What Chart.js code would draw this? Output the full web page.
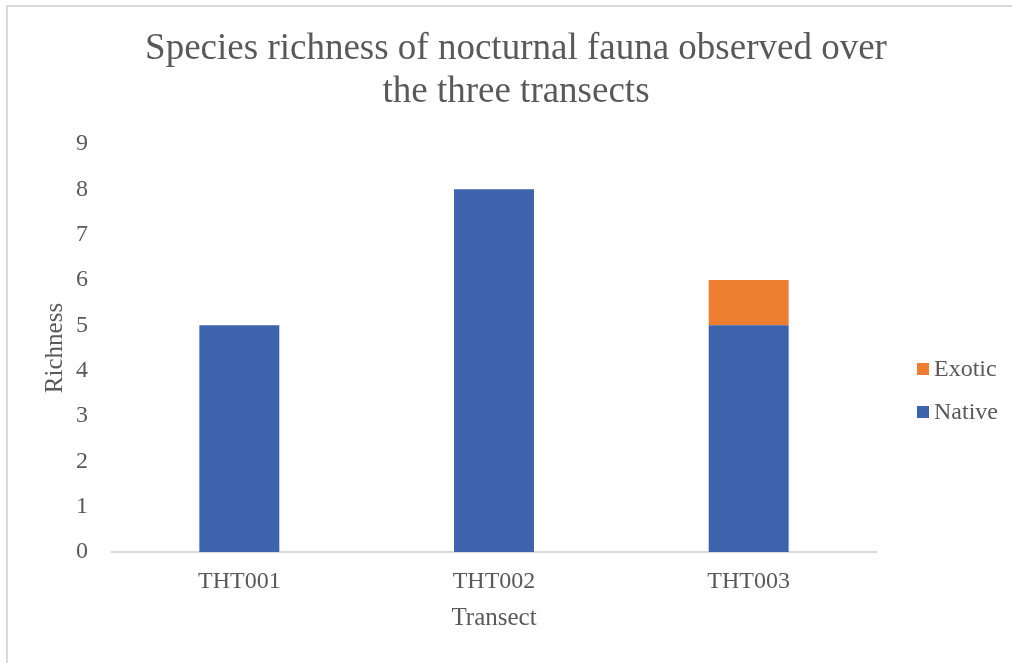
<!DOCTYPE html>
<html>
<head>
<meta charset="utf-8">
<script src="https://cdn.jsdelivr.net/npm/chart.js@4/dist/chart.umd.min.js"></script>
<style>
  html, body { margin: 0; padding: 0; background: #ffffff; }
  #wrap { position: relative; width: 1012px; height: 663px; }
</style>
</head>
<body>
<div id="wrap"><canvas id="c" width="1012" height="663"></canvas></div>
<script>
const categories = ['THT001', 'THT002', 'THT003'];
const nativeValues = [5, 8, 5];
const exoticValues = [0, 0, 1];
const yTicks = [0, 1, 2, 3, 4, 5, 6, 7, 8, 9];
const titleLines = ['Species richness of nocturnal fauna observed over', 'the three transects'];

const TEXT = '#595959';
const SERIF = "'Liberation Serif', 'Times New Roman', serif";

const frame = {
  id: 'frame',
  beforeDraw(chart) {
    const ctx = chart.ctx;
    ctx.save();
    ctx.fillStyle = '#ffffff';
    ctx.fillRect(0, 0, chart.width, chart.height);
    ctx.fillStyle = '#d9d9d9';
    ctx.fillRect(6, 5, chart.width - 6, 2);
    ctx.fillRect(6, 5, 2, chart.height - 5);
    ctx.restore();
  }
};

const titleDraw = {
  id: 'titleDraw',
  afterDraw(chart) {
    const ctx = chart.ctx;
    ctx.save();
    ctx.font = '37px ' + SERIF;
    ctx.fillStyle = TEXT;
    ctx.textAlign = 'center';
    ctx.textBaseline = 'alphabetic';
    titleLines.forEach((t, i) => ctx.fillText(t, 516, 59 + i * 43));
    ctx.restore();
  }
};

const customLegend = {
  id: 'customLegend',
  afterDraw(chart) {
    const ctx = chart.ctx;
    const ds = chart.data.datasets.slice().reverse();
    ctx.save();
    ctx.font = '24px ' + SERIF;
    ctx.textBaseline = 'middle';
    ctx.textAlign = 'left';
    ds.forEach((d, i) => {
      const y = 369 + i * 43;
      ctx.fillStyle = d.backgroundColor;
      ctx.fillRect(917, y - 6, 12, 12);
      ctx.fillStyle = TEXT;
      ctx.fillText(d.label, 934, y + 1);
    });
    ctx.restore();
  }
};

new Chart(document.getElementById('c'), {
  type: 'bar',
  data: {
    labels: categories,
    datasets: [
      { label: 'Native', data: nativeValues, backgroundColor: '#3C63AC', categoryPercentage: 1, barPercentage: 0.314 },
      { label: 'Exotic', data: exoticValues, backgroundColor: '#ED7D31', categoryPercentage: 1, barPercentage: 0.314 }
    ]
  },
  options: {
    responsive: false,
    animation: false,
    devicePixelRatio: 1,
    layout: { padding: { left: 0, right: 136, top: 144, bottom: 0 } },
    plugins: {
      legend: { display: false },
      tooltip: { enabled: false },
      title: { display: false }
    },
    scales: {
      x: {
        stacked: true,
        grid: { display: false, drawTicks: false },
        border: { display: true, color: '#d9d9d9', width: 2 },
        ticks: { color: TEXT, font: { family: SERIF, size: 24 }, padding: 15 },
        title: { display: true, text: 'Transect', color: TEXT, font: { family: SERIF, size: 25 }, padding: { top: 10, bottom: 30 } },
        afterFit(s) { s.height = 111; }
      },
      y: {
        stacked: true,
        min: 0,
        max: 9,
        afterBuildTicks(s) { s.ticks = yTicks.map(v => ({ value: v })); },
        grid: { display: false, drawTicks: false },
        border: { display: false },
        ticks: { color: TEXT, font: { family: SERIF, size: 24 }, padding: 24 },
        title: { display: true, text: 'Richness', color: TEXT, font: { family: SERIF, size: 25 }, padding: { top: 40, bottom: 0 } },
        afterFit(s) { s.width = 112; }
      }
    }
  },
  plugins: [frame, titleDraw, customLegend]
});
</script>
</body>
</html>
